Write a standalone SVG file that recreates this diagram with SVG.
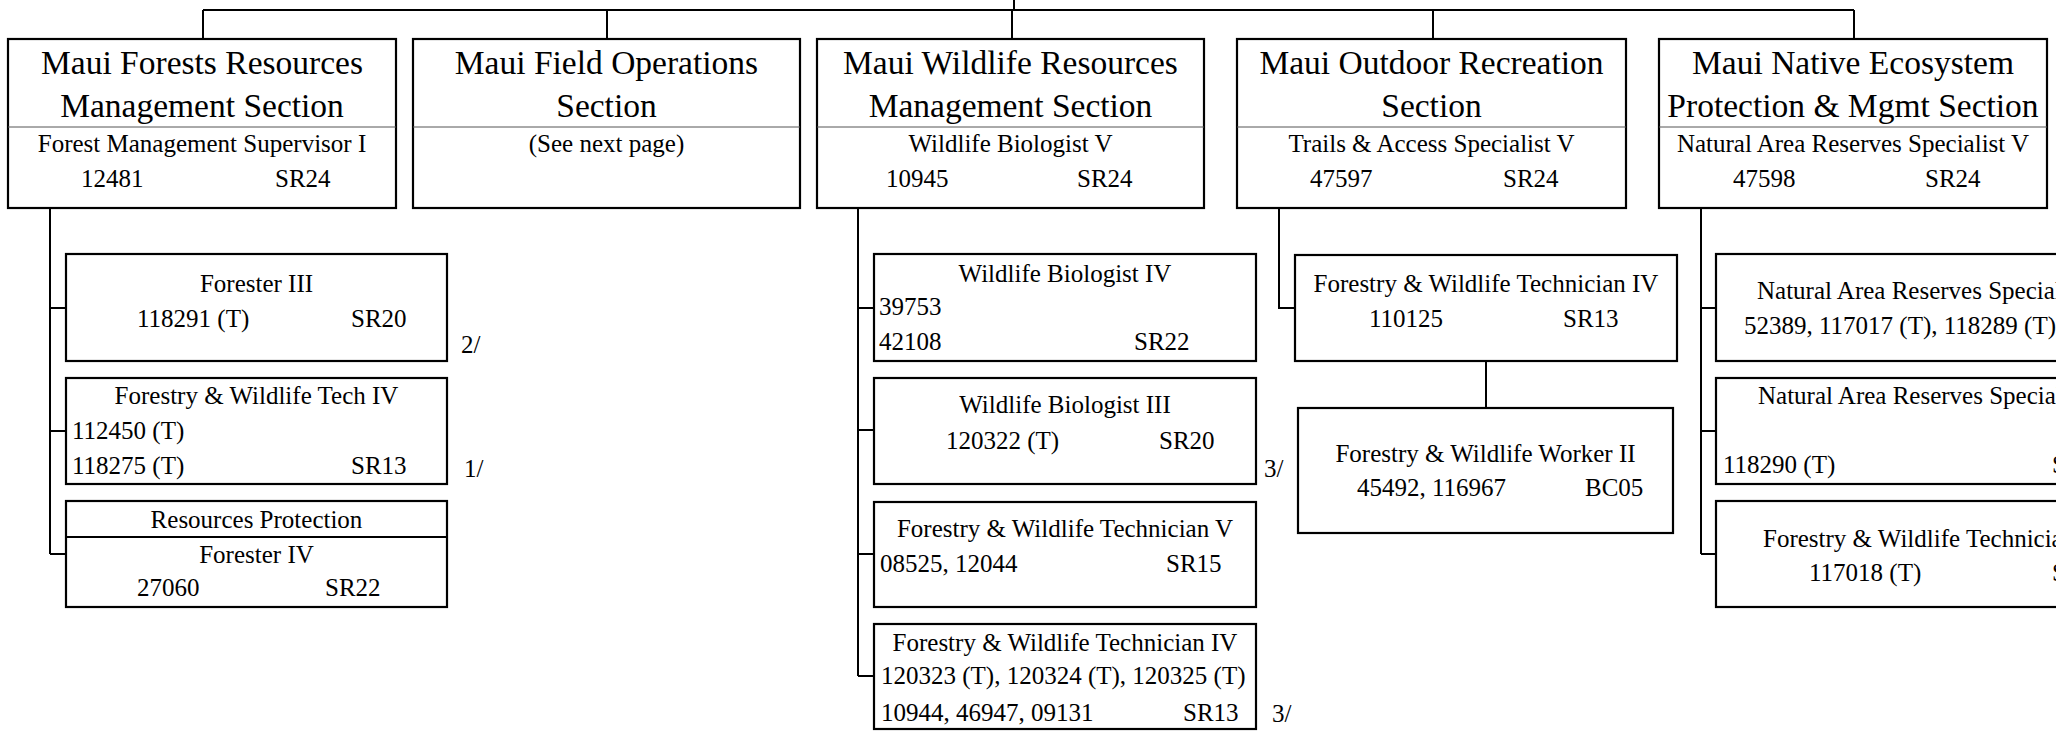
<svg xmlns="http://www.w3.org/2000/svg" width="2056" height="734" viewBox="0 0 2056 734">
<style>
text{font-family:"Liberation Serif","Times New Roman",serif;fill:#000}
.t{font-size:33.5px;text-anchor:middle}
.s{font-size:25px}
.c{text-anchor:middle}
.box{fill:#fff;stroke:#000;stroke-width:2.2}
.div{stroke:#555;stroke-width:1}
.div2{stroke:#000;stroke-width:2}
.con{fill:none;stroke:#000;stroke-width:2}
</style>
<rect width="2056" height="734" fill="#fff"/>
<g id="connectors" class="con">
<path d="M1014 0V10M203 10H1854M203 10V39M607 10V39M1012 10V39M1433 10V39M1854 10V39"/>
<path d="M50 208V554M50 308H66M50 431H66M50 554H66"/>
<path d="M858 208V676M858 308H874M858 430H874M858 554H874M858 676H874"/>
<path d="M1279 208V308H1295M1486 361V408"/>
<path d="M1701 208V554M1701 308H1716M1701 431H1716M1701 554H1716"/>
</g>
<g id="forests">
<rect class="box" x="8" y="39" width="388" height="169"/>
<line class="div" x1="8" y1="127" x2="396" y2="127"/>
<text class="t" x="202" y="74">Maui Forests Resources</text>
<text class="t" x="202" y="117">Management Section</text>
<text class="s c" x="202" y="152">Forest Management Supervisor I</text>
<text class="s" x="81" y="187">12481</text>
<text class="s" x="275" y="187">SR24</text>
</g>
<g id="fieldops">
<rect class="box" x="413" y="39" width="387" height="169"/>
<line class="div" x1="413" y1="127" x2="800" y2="127"/>
<text class="t" x="606.5" y="74">Maui Field Operations</text>
<text class="t" x="606.5" y="117">Section</text>
<text class="s c" x="606.5" y="152">(See next page)</text>
</g>
<g id="wildlife">
<rect class="box" x="817" y="39" width="387" height="169"/>
<line class="div" x1="817" y1="127" x2="1204" y2="127"/>
<text class="t" x="1010.5" y="74">Maui Wildlife Resources</text>
<text class="t" x="1010.5" y="117">Management Section</text>
<text class="s c" x="1010.5" y="152">Wildlife Biologist V</text>
<text class="s" x="886" y="187">10945</text>
<text class="s" x="1077" y="187">SR24</text>
</g>
<g id="outdoor">
<rect class="box" x="1237" y="39" width="389" height="169"/>
<line class="div" x1="1237" y1="127" x2="1626" y2="127"/>
<text class="t" x="1431.5" y="74">Maui Outdoor Recreation</text>
<text class="t" x="1431.5" y="117">Section</text>
<text class="s c" x="1431.5" y="152">Trails &amp; Access Specialist V</text>
<text class="s" x="1310" y="187">47597</text>
<text class="s" x="1503" y="187">SR24</text>
</g>
<g id="native">
<rect class="box" x="1659" y="39" width="388" height="169"/>
<line class="div" x1="1659" y1="127" x2="2047" y2="127"/>
<text class="t" x="1853" y="74">Maui Native Ecosystem</text>
<text class="t" x="1853" y="117">Protection &amp; Mgmt Section</text>
<text class="s c" x="1853" y="152">Natural Area Reserves Specialist V</text>
<text class="s" x="1733" y="187">47598</text>
<text class="s" x="1925" y="187">SR24</text>
</g>
<g id="forester3">
<rect class="box" x="66" y="254" width="381" height="107"/>
<text class="s c" x="256.5" y="292">Forester III</text>
<text class="s" x="137" y="327">118291 (T)</text>
<text class="s" x="351" y="327">SR20</text>
</g>
<text id="note-2" class="s" x="461" y="353">2/</text>
<g id="fwtech4a">
<rect class="box" x="66" y="378" width="381" height="106"/>
<text class="s c" x="256.5" y="404">Forestry &amp; Wildlife Tech IV</text>
<text class="s" x="72" y="439">112450 (T)</text>
<text class="s" x="72" y="474">118275 (T)</text>
<text class="s" x="351" y="474">SR13</text>
</g>
<text id="note-1" class="s" x="464" y="477">1/</text>
<g id="forester4">
<rect class="box" x="66" y="501" width="381" height="106"/>
<line class="div2" x1="66" y1="537" x2="447" y2="537"/>
<text class="s c" x="256.5" y="528">Resources Protection</text>
<text class="s c" x="256.5" y="563">Forester IV</text>
<text class="s" x="137" y="596">27060</text>
<text class="s" x="325" y="596">SR22</text>
</g>
<g id="wb4">
<rect class="box" x="874" y="254" width="382" height="107"/>
<text class="s c" x="1065" y="282">Wildlife Biologist IV</text>
<text class="s" x="879" y="315">39753</text>
<text class="s" x="879" y="350">42108</text>
<text class="s" x="1134" y="350">SR22</text>
</g>
<g id="wb3">
<rect class="box" x="874" y="378" width="382" height="106"/>
<text class="s c" x="1065" y="413">Wildlife Biologist III</text>
<text class="s" x="946" y="449">120322 (T)</text>
<text class="s" x="1159" y="449">SR20</text>
</g>
<text id="note-3a" class="s" x="1264" y="477">3/</text>
<g id="fwtech5">
<rect class="box" x="874" y="502" width="382" height="105"/>
<text class="s c" x="1065" y="537">Forestry &amp; Wildlife Technician V</text>
<text class="s" x="880" y="572">08525, 12044</text>
<text class="s" x="1166" y="572">SR15</text>
</g>
<g id="fwtech4b">
<rect class="box" x="874" y="624" width="382" height="105"/>
<text class="s c" x="1065" y="651">Forestry &amp; Wildlife Technician IV</text>
<text class="s" x="881" y="684">120323 (T), 120324 (T), 120325 (T)</text>
<text class="s" x="881" y="721">10944, 46947, 09131</text>
<text class="s" x="1183" y="721">SR13</text>
</g>
<text id="note-3b" class="s" x="1272" y="722">3/</text>
<g id="fwtech4c">
<rect class="box" x="1295" y="255" width="382" height="106"/>
<text class="s c" x="1486" y="292">Forestry &amp; Wildlife Technician IV</text>
<text class="s" x="1369" y="327">110125</text>
<text class="s" x="1563" y="327">SR13</text>
</g>
<g id="fwworker2">
<rect class="box" x="1298" y="408" width="375" height="125"/>
<text class="s c" x="1485.5" y="462">Forestry &amp; Wildlife Worker II</text>
<text class="s" x="1357" y="496">45492, 116967</text>
<text class="s" x="1585" y="496">BC05</text>
</g>
<g id="nars1">
<rect class="box" x="1716" y="254" width="400" height="107"/>
<text class="s" x="1757" y="299">Natural Area Reserves Specialist</text>
<text class="s" x="1744" y="334">52389, 117017 (T), 118289 (T)</text>
</g>
<g id="nars2">
<rect class="box" x="1716" y="378" width="400" height="106"/>
<text class="s" x="1758" y="404">Natural Area Reserves Specialist</text>
<text class="s" x="1723" y="473">118290 (T)</text>
<text class="s" x="2052" y="473">S</text>
</g>
<g id="fwtech-n">
<rect class="box" x="1716" y="501" width="400" height="106"/>
<text class="s" x="1763" y="547">Forestry &amp; Wildlife Technician</text>
<text class="s" x="1809" y="581">117018 (T)</text>
<text class="s" x="2052" y="581">S</text>
</g>
</svg>
